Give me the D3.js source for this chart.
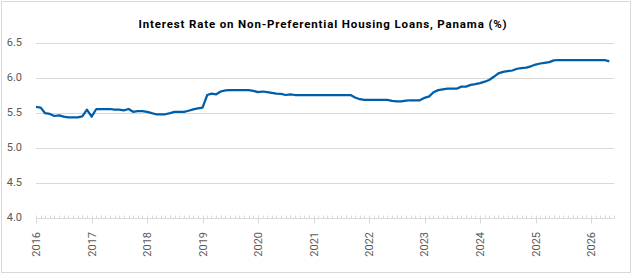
<!DOCTYPE html>
<html>
<head>
<meta charset="utf-8">
<script src="https://cdn.jsdelivr.net/npm/d3@7"></script>
<style>
  body { margin: 0; background: #fff; }
  svg { display: block; }
</style>
</head>
<body>
<div id="chart-container"></div>
<script>

let titleText = "Interest Rate on Non-Preferential Housing Loans, Panama (%)";

// monthly observations, first one is Jan 2016
let startMonth = new Date(2016, 0, 1);
let rateValues = [
    5.58, 5.57, 5.49, 5.48, 5.45, 5.46, 5.44, 5.43, 5.43, 5.43, 5.445, 5.54,
    5.44, 5.55, 5.55, 5.55, 5.55, 5.54, 5.54, 5.53, 5.55, 5.51, 5.52, 5.52,
    5.51, 5.49, 5.475, 5.475, 5.475, 5.49, 5.51, 5.51, 5.51, 5.525, 5.545, 5.56,
    5.57, 5.75, 5.77, 5.76, 5.80, 5.815, 5.82, 5.82, 5.82, 5.82, 5.82, 5.81,
    5.79, 5.80, 5.79, 5.78, 5.77, 5.765, 5.75, 5.76, 5.75, 5.75, 5.75, 5.75,
    5.75, 5.75, 5.75, 5.75, 5.75, 5.75, 5.75, 5.75, 5.75, 5.715, 5.69, 5.68,
    5.68, 5.68, 5.68, 5.68, 5.68, 5.665, 5.66, 5.66, 5.67, 5.675, 5.675, 5.675,
    5.71, 5.73, 5.79, 5.82, 5.83, 5.84, 5.84, 5.84, 5.87, 5.87, 5.895, 5.905,
    5.92, 5.94, 5.965, 6.01, 6.06, 6.08, 6.09, 6.10, 6.125, 6.135, 6.14, 6.16,
    6.185, 6.20, 6.21, 6.22, 6.245, 6.25, 6.25, 6.25, 6.25, 6.25, 6.25, 6.25,
    6.25, 6.25, 6.25, 6.25, 6.23
];

let yTicks = [4.0, 4.5, 5.0, 5.5, 6.0, 6.5];
let yearTicks = [2016, 2017, 2018, 2019, 2020, 2021, 2022, 2023, 2024, 2025, 2026];

let w = 633;
let h = 274;
let plotLeft = 36;
let plotRight = 614;
let plotTop = 42.5;
let plotBottom = 217.5;

let data = rateValues.map((v, i) => ({ date: d3.timeMonth.offset(startMonth, i), value: v }));

const svg = d3.select("#chart-container")
    .append("svg")
    .attr("width", w)
    .attr("height", h);

// outer frame
svg.append("rect")
    .attr("x", 1.5)
    .attr("y", 1.5)
    .attr("width", w - 4)
    .attr("height", h - 3)
    .attr("fill", "#fff")
    .attr("stroke", "#d9d9d9")
    .attr("stroke-width", 1);

let xScale = d3.scaleTime()
    .domain([startMonth, new Date(2026, 5, 1)])
    .range([plotLeft, plotRight]);

let yScale = d3.scaleLinear()
    .domain([4, 6.5])
    .range([plotBottom, plotTop]);

// horizontal grid
svg.append("g")
    .selectAll("line")
    .data(yTicks)
    .enter()
    .append("line")
    .attr("x1", plotLeft)
    .attr("x2", plotRight)
    .attr("y1", d => Math.round(yScale(d)) + 0.5)
    .attr("y2", d => Math.round(yScale(d)) + 0.5)
    .attr("stroke", "#d9d9d9")
    .attr("stroke-width", 1);

// y labels
svg.append("g")
    .selectAll("text")
    .data(yTicks)
    .enter()
    .append("text")
    .attr("x", 22)
    .attr("y", d => yScale(d))
    .attr("dy", "0.36em")
    .attr("text-anchor", "end")
    .style("font-family", "Roboto, 'Liberation Sans', sans-serif")
    .style("font-size", "11px")
    .style("fill", "#595959")
    .text(d => d.toFixed(1));

// x axis ticks: monthly minor, yearly major
let axisY = Math.round(yScale(4)) + 0.5;
let months = d3.timeMonth.range(startMonth, new Date(2026, 6, 1));

svg.append("g")
    .selectAll("line")
    .data(months)
    .enter()
    .append("line")
    .attr("x1", d => Math.round(xScale(d)) + 0.5)
    .attr("x2", d => Math.round(xScale(d)) + 0.5)
    .attr("y1", axisY - 3)
    .attr("y2", d => d.getMonth() == 0 ? axisY + 5 : axisY)
    .attr("stroke", "#d9d9d9")
    .attr("stroke-width", 1);

svg.append("g")
    .selectAll("text")
    .data(yearTicks)
    .enter()
    .append("text")
    .attr("transform", d => "translate(" + xScale(new Date(d, 0, 1)) + "," + 232 + ") rotate(-90)")
    .attr("dy", "0.36em")
    .attr("text-anchor", "end")
    .style("font-family", "Roboto, 'Liberation Sans', sans-serif")
    .style("font-size", "11px")
    .style("fill", "#595959")
    .text(d => d);

// the series
let line = d3.line()
    .x(d => xScale(d.date))
    .y(d => yScale(d.value));

svg.append("path")
    .datum(data)
    .attr("d", line)
    .attr("fill", "none")
    .attr("stroke", "#005ea8")
    .attr("stroke-width", 2.25)
    .attr("stroke-linejoin", "round");

svg.append("text")
    .attr("x", 323)
    .attr("y", 27.5)
    .attr("text-anchor", "middle")
    .style("font-family", "Roboto, 'Liberation Sans', sans-serif")
    .style("font-weight", "bold")
    .style("font-size", "11.5px")
    .style("letter-spacing", "0.85px")
    .style("fill", "#000")
    .text(titleText);

</script>
</body>
</html>
